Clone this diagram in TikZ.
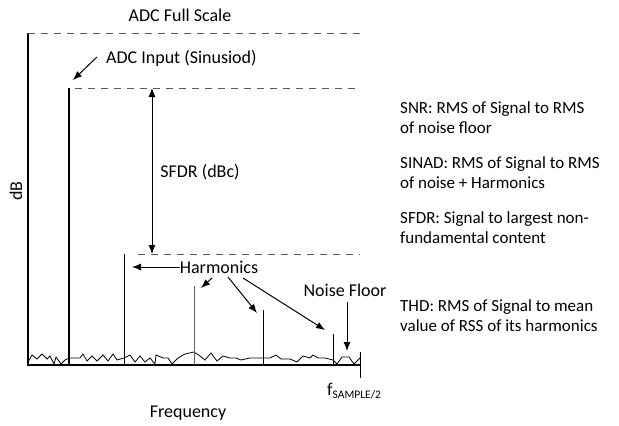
\documentclass[tikz,border=0pt]{standalone}
\usepackage{fontspec}
\setmainfont{Carlito}
\usetikzlibrary{arrows.meta}

\begin{document}
\begin{tikzpicture}
		[x=1pt,y=-1pt,
		lbl/.style={inner sep=0pt,font=\fontsize{18}{20}\selectfont},
		note/.style={inner sep=0pt,font=\fontsize{17}{20}\selectfont,align=left,anchor=west},
		lvl/.style={line width=0.8pt,draw=black!65,dash pattern=on 7pt off 6pt},
		ptr/.style={-{Latex[length=9pt,width=7pt]},line width=1pt}]

		\useasboundingbox (0,0) rectangle (619,426);

		% axes
		\coordinate (o) at (28,365);
		\coordinate (top) at (28,33);
		\coordinate (end) at (360,365);
		\coordinate (tickhi) at (360,352);
		\coordinate (ticklo) at (360,378);
		\draw[line width=2.2pt] (top) -- (o) -- (end);
		\draw[line width=1pt] (tickhi) -- (ticklo);

		% noise floor
		\draw[line width=0.8pt] (28,362) -- (32,355) -- (37,359) -- (42,354) -- (47,359) -- (50,356) -- (54,364) -- (56,357) -- (61,364) -- (65,360) -- (69,358)
			-- (80,358) -- (83,354) -- (87,361) -- (92,356) -- (97,361) -- (103,355) -- (108,361) -- (113,354) -- (117,360) -- (124,358)
			-- (130,355) -- (135,362) -- (140,356) -- (145,362) -- (150,358) -- (155,364) -- (156,355) -- (163,358) -- (168,358) -- (172,364)
			-- (178,358) -- (185,354) -- (194,352) -- (200,356) -- (205,360) -- (211,353) -- (217,361) -- (223,356) -- (230,358) -- (236,358)
			-- (241,360) -- (250,358) -- (263,358) -- (270,358) -- (276,355) -- (281,359) -- (290,359) -- (297,362) -- (303,356) -- (310,358)
			-- (313,355) -- (318,358) -- (325,358) -- (333,360) -- (337,364) -- (342,357) -- (349,357) -- (354,364) -- (360,358);

		% full scale and signal levels
		\coordinate (fs) at (360,33);
		\coordinate (sigtop) at (69,88);
		\coordinate (sigbot) at (69,365);
		\coordinate (siglvl) at (75,88);
		\coordinate (sigend) at (360,88);
		\coordinate (spurlvl) at (138,254);
		\coordinate (spurend) at (360,254);
		\draw[lvl] (top) -- (fs);
		\draw[lvl] (siglvl) -- (sigend);
		\draw[lvl] (spurlvl) -- (spurend);
		\draw[line width=2.6pt] (sigtop) -- (sigbot);

		% harmonics
		\coordinate (h1) at (124,254);
		\coordinate (h1b) at (124,365);
		\coordinate (h2) at (194,286);
		\coordinate (h2b) at (194,365);
		\coordinate (h3) at (263,310);
		\coordinate (h3b) at (263,365);
		\coordinate (h4) at (333,334);
		\coordinate (h4b) at (333,365);
		\draw[line width=1pt] (h1) -- (h1b);
		\draw[line width=1pt,draw=black!60] (h2) -- (h2b);
		\draw[line width=1pt] (h3) -- (h3b);
		\draw[line width=1pt] (h4) -- (h4b);

		% labels
		\node[lbl] (fslbl) at (180,15) {ADC Full Scale};
		\node[lbl,anchor=west] (inlbl) at (106,58) {ADC Input (Sinusiod)};
		\node[lbl] (sfdrlbl) at (200,172) {SFDR (dBc)};
		\node[lbl,rotate=90] (dblbl) at (16,191) {dB};
		\node[lbl] (harm) at (219,267) {Harmonics};
		\node[lbl] (nflbl) at (345,290) {Noise Floor};
		\node[lbl,anchor=west] (fslbl2) at (327,391) {f\raisebox{-0.4ex}{\fontsize{11.5}{11.5}\selectfont SAMPLE/2}};
		\node[lbl] (freq) at (188,413) {Frequency};

		% pointers
		\coordinate (inend) at (73,80);
		\coordinate (instart) at (97,57);
		\draw[ptr] (instart) -- (inend);
		\coordinate (sfdrtop) at (152,88);
		\coordinate (sfdrbot) at (152,254);
		\draw[{Latex[length=9pt,width=7pt]}-{Latex[length=9pt,width=7pt]},line width=1pt] (sfdrtop) -- (sfdrbot);
		\coordinate (a1) at (132,267);
		\coordinate (a2) at (201,288);
		\coordinate (a3) at (257,313);
		\coordinate (a4) at (325,330);
		\draw[ptr] (harm.west) -- (a1);
		\draw[ptr] (212,278) -- (a2);
		\draw[ptr] (228,277) -- (a3);
		\draw[ptr] (243,278) -- (a4);
		\coordinate (nfs) at (347,302);
		\coordinate (nfe) at (347,351);
		\draw[ptr] (nfs) -- (nfe);

		% metrics
		\node[note] (snr) at (400,118) {SNR: RMS of Signal to RMS\\of noise floor};
		\node[note] (sinad) at (400,173) {SINAD: RMS of Signal to RMS\\of noise + Harmonics};
		\node[note] (sfdr) at (400,228) {SFDR: Signal to largest non-\\fundamental content};
		\node[note] (thd) at (400,316) {THD: RMS of Signal to mean\\value of RSS of its harmonics};

\end{tikzpicture}
\end{document}
